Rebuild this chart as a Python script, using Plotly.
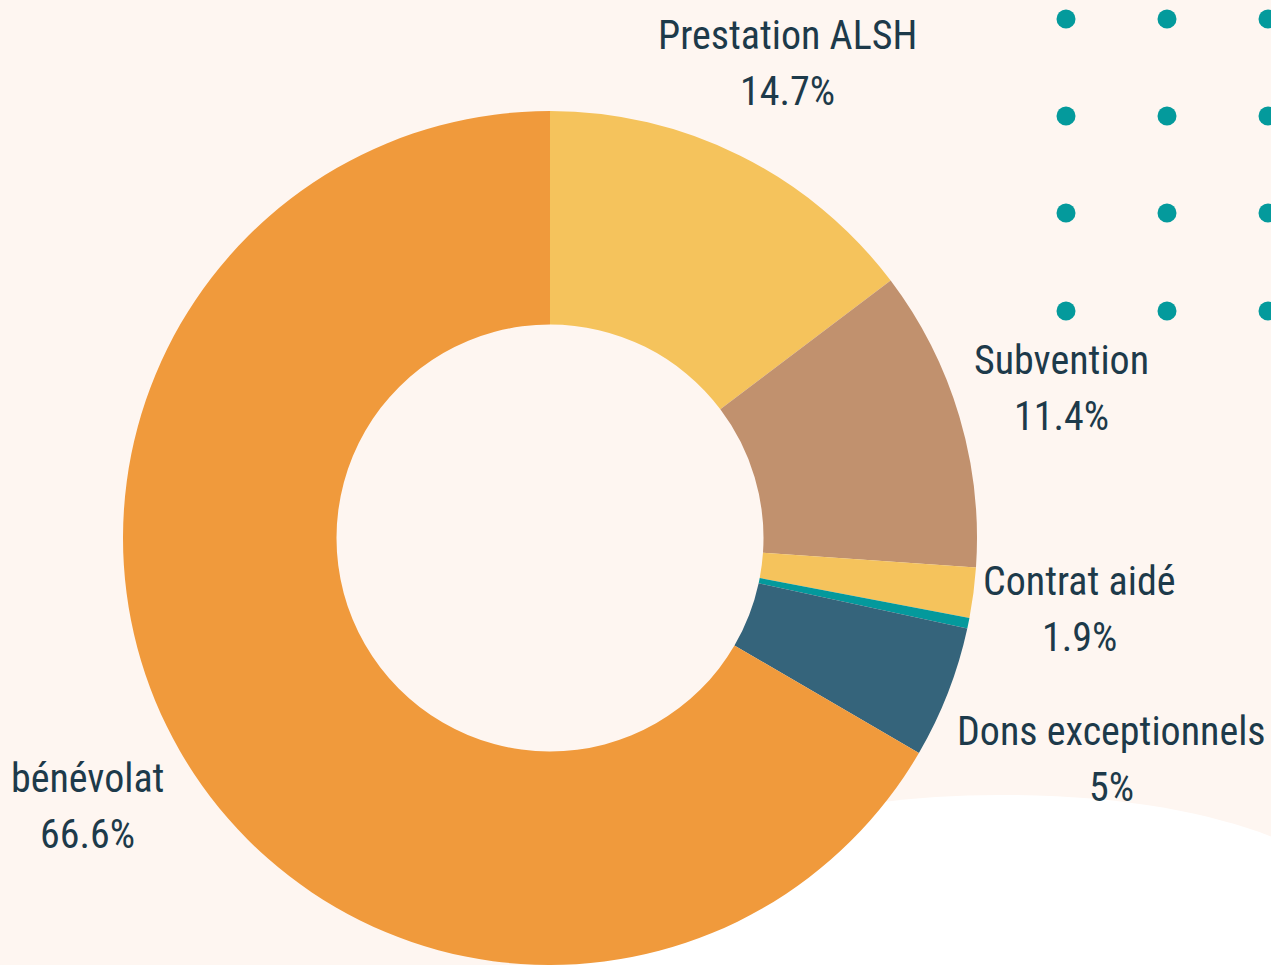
import math
import plotly.graph_objects as go

labels = ['Prestation ALSH', 'Subvention', 'Contrat aidé', 'Autre', 'Dons exceptionnels', 'bénévolat']
values = [14.7, 11.4, 1.9, 0.4, 5.0, 66.6]
show_text = [True, True, True, False, True, True]

_COLORS = ['#F5C35C', '#C1916E', '#F5C35C', '#04999C', '#35647B', '#F09A3C']
_BG = '#FEF6F1'
_TEXT = '#1D3A4A'
_DOT = '#049A9C'
_FONT = 'Roboto Condensed, Liberation Sans Narrow, Roboto, sans-serif'
_FONT_SIZE = 40

W, H = 1271, 965
DOMAIN_X = [(550 - 427) / W, (550 + 427) / W]
DOMAIN_Y = [0, 854 / H]
HOLE = 0.5
LABEL_R = 1.25                              # rayon des étiquettes / rayon externe
LABEL_R_SPECIAL = {'Dons exceptionnels': 1.41}
LINE_GAP = 28                               # demi-écart entre les 2 lignes (px)
TEXT_SHIFT = 3

# décor : grille de points en haut à droite (pixels)
dot_x = [1066, 1167, 1268]
dot_y = [19, 116, 213, 311]
DOT_R = 9.5


def _px(x, y):
    return x / W, 1 - y / H


shapes = []
# forme blanche en bas à droite (sous le donut)
blob = [(520, 985), (650, 850), (800, 795), (1000, 795),
        (1130, 795), (1220, 815), (1285, 842), (1285, 985)]
pts = [_px(x, y) for x, y in blob]
path = 'M {:.4f},{:.4f} C {:.4f},{:.4f} {:.4f},{:.4f} {:.4f},{:.4f} C {:.4f},{:.4f} {:.4f},{:.4f} {:.4f},{:.4f} L {:.4f},{:.4f} Z'.format(
    *[c for p in pts for c in p])
shapes.append(dict(type='path', path=path, xref='paper', yref='paper', layer='below',
                   fillcolor='#FFFFFF', line=dict(width=0)))
for yy in dot_y:
    for xx in dot_x:
        x0, y0 = _px(xx - DOT_R, yy + DOT_R)
        x1, y1 = _px(xx + DOT_R, yy - DOT_R)
        shapes.append(dict(type='circle', xref='paper', yref='paper', layer='below',
                           x0=x0, x1=x1, y0=y0, y1=y1,
                           fillcolor=_DOT, line=dict(width=0)))

fig = go.Figure(go.Pie(
    labels=labels,
    values=values,
    hole=HOLE,
    sort=False,
    direction='clockwise',
    rotation=0,
    marker=dict(colors=_COLORS, line=dict(width=0)),
    textinfo='none',
    hovertemplate='%{label}<br>%{percent}<extra></extra>',
    showlegend=False,
    domain=dict(x=DOMAIN_X, y=DOMAIN_Y),
))

# étiquettes : centrées sur l'angle médian de chaque part, à 1.25 x rayon
cx = (DOMAIN_X[0] + DOMAIN_X[1]) / 2 * W
cy = H - (DOMAIN_Y[0] + DOMAIN_Y[1]) / 2 * H
R = min((DOMAIN_X[1] - DOMAIN_X[0]) * W, (DOMAIN_Y[1] - DOMAIN_Y[0]) * H) / 2
total = sum(values)
cum = 0
annotations = []
for lab, v, show in zip(labels, values, show_text):
    mid = (cum + v / 2) / total * 2 * math.pi
    cum += v
    if not show:
        continue
    rl = R * LABEL_R_SPECIAL.get(lab, LABEL_R)
    lx = cx + rl * math.sin(mid)
    ly = cy - rl * math.cos(mid) + TEXT_SHIFT
    pct = '{:.3g}%'.format(v / total * 100)
    for txt, dy in ((lab, -LINE_GAP), (pct, LINE_GAP)):
        ax, ay = _px(lx, ly + dy)
        annotations.append(dict(
            text=txt, x=ax, y=ay, xref='paper', yref='paper',
            xanchor='center', yanchor='middle', showarrow=False,
            font=dict(family=_FONT, size=_FONT_SIZE, color=_TEXT),
        ))

fig.update_layout(
    width=W, height=H,
    margin=dict(l=0, r=0, t=0, b=0),
    paper_bgcolor=_BG,
    plot_bgcolor=_BG,
    font=dict(family=_FONT, color=_TEXT, size=_FONT_SIZE),
    shapes=shapes,
    annotations=annotations,
)

fig.write_html('out.html', config={'displayModeBar': False},
               post_script="document.body.style.margin='0';document.body.style.overflow='hidden';")
